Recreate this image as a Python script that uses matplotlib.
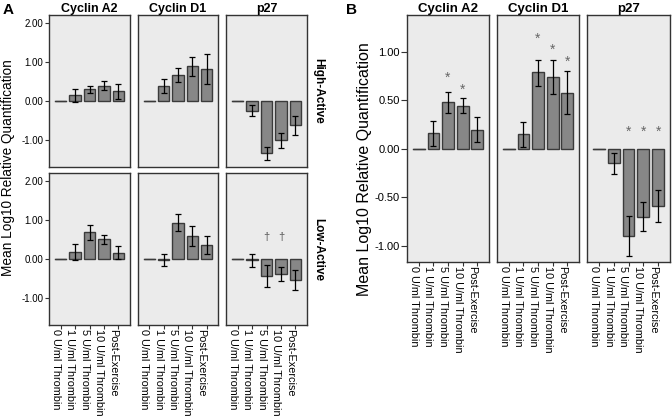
import matplotlib
matplotlib.use("Agg")
import matplotlib.pyplot as plt
import numpy as np

plt.rcParams["font.family"] = ["Liberation Sans", "DejaVu Sans"]

categories = ["0 U/ml Thrombin", "1 U/ml Thrombin", "5 U/ml Thrombin",
              "10 U/ml Thrombin", "Post-Exercise"]
genes = ["Cyclin A2", "Cyclin D1", "p27"]
groups = ["High-Active", "Low-Active"]

# Panel A: mean, lower, upper (error bar ends)
a_high_mean = {"Cyclin A2": [0, 0.15, 0.30, 0.38, 0.26],
               "Cyclin D1": [0, 0.38, 0.66, 0.90, 0.81],
               "p27": [0, -0.26, -1.35, -1.01, -0.63]}
a_high_lo = {"Cyclin A2": [0, -0.02, 0.21, 0.27, 0.05],
             "Cyclin D1": [0, 0.19, 0.49, 0.64, 0.43],
             "p27": [0, -0.39, -1.51, -1.20, -0.88]}
a_high_hi = {"Cyclin A2": [0, 0.30, 0.38, 0.50, 0.44],
             "Cyclin D1": [0, 0.55, 0.83, 1.13, 1.20],
             "p27": [0, -0.12, -1.19, -0.82, -0.38]}
a_low_mean = {"Cyclin A2": [0, 0.17, 0.68, 0.50, 0.15],
              "Cyclin D1": [0, -0.02, 0.91, 0.59, 0.35],
              "p27": [0, -0.02, -0.44, -0.39, -0.54]}
a_low_lo = {"Cyclin A2": [0, -0.03, 0.49, 0.39, -0.01],
            "Cyclin D1": [0, -0.19, 0.71, 0.33, 0.12],
            "p27": [0, -0.20, -0.73, -0.58, -0.80]}
a_low_hi = {"Cyclin A2": [0, 0.38, 0.86, 0.61, 0.33],
            "Cyclin D1": [0, 0.12, 1.14, 0.85, 0.58],
            "p27": [0, 0.12, -0.16, -0.21, -0.28]}
a_dagger_idx = [2, 3]
a_dagger_y = 0.55

# Panel B
b_mean = {"Cyclin A2": [0, 0.16, 0.48, 0.445, 0.20],
          "Cyclin D1": [0, 0.15, 0.79, 0.745, 0.58],
          "p27": [0, -0.15, -0.90, -0.70, -0.585]}
b_lo = {"Cyclin A2": [0, 0.03, 0.37, 0.37, 0.07],
        "Cyclin D1": [0, 0.02, 0.65, 0.57, 0.36],
        "p27": [0, -0.255, -1.10, -0.85, -0.755]}
b_hi = {"Cyclin A2": [0, 0.29, 0.59, 0.52, 0.33],
        "Cyclin D1": [0, 0.28, 0.92, 0.92, 0.80],
        "p27": [0, -0.045, -0.69, -0.545, -0.42]}
b_star_idx = {"Cyclin A2": [2, 3], "Cyclin D1": [2, 3, 4], "p27": [2, 3, 4]}
b_star_y = {"Cyclin A2": [0.73, 0.61], "Cyclin D1": [1.14, 1.02, 0.90],
            "p27": [0.175, 0.175, 0.175]}

W, H = 672, 416
fig = plt.figure(figsize=(W / 100, H / 100), dpi=100)

FACE = "#ebebeb"
BAR = "#878787"
BAREDGE = "#3a3a3a"
SPINE = "#333333"
x = np.arange(len(categories))


def make_ax(x0, x1, y0, y1):
    ax = fig.add_axes([x0 / W, 1 - y1 / H, (x1 - x0) / W, (y1 - y0) / H])
    ax.set_facecolor(FACE)
    for s in ax.spines.values():
        s.set_color(SPINE)
        s.set_linewidth(1.0)
    ax.set_xlim(-0.8, len(categories) - 0.2)
    return ax


def draw(ax, mean, lo, hi):
    mean = np.array(mean)
    lo = np.array(lo)
    hi = np.array(hi)
    ax.bar(x, mean, width=0.8, color=BAR, edgecolor=BAREDGE, linewidth=1.0, zorder=2)
    ax.plot([x[0] - 0.4, x[0] + 0.4], [mean[0], mean[0]], color=BAREDGE, lw=1.0, zorder=3)
    idx = x[1:]
    ax.errorbar(idx, mean[1:], yerr=[mean[1:] - lo[1:], hi[1:] - mean[1:]],
                fmt="none", ecolor="black", elinewidth=0.9, capsize=2, capthick=0.9, zorder=4)


def xlabels(ax):
    ax.set_xticks(x)
    ax.set_xticklabels(categories, rotation=-90, fontsize=7.8, va="top", ha="right",
                       rotation_mode="default")
    ax.tick_params(axis="x", length=3, pad=0, color=SPINE, width=0.8)


colsA = [(49, 130), (138, 218), (226, 307)]
rowsA = [(15, 167), (173, 325)]
A_means = [a_high_mean, a_low_mean]
A_los = [a_high_lo, a_low_lo]
A_his = [a_high_hi, a_low_hi]

for r, (y0, y1) in enumerate(rowsA):
    for c, (x0, x1) in enumerate(colsA):
        ax = make_ax(x0, x1, y0, y1)
        g = genes[c]
        draw(ax, A_means[r][g], A_los[r][g], A_his[r][g])
        ax.set_ylim(-1.7, 2.2)
        ax.set_yticks([-1, 0, 1, 2])
        if c == 0:
            ax.set_yticklabels(["-1.00", "0.00", "1.00", "2.00"], fontsize=7)
            ax.tick_params(axis="y", length=3, pad=1, color=SPINE, width=0.8)
        else:
            ax.tick_params(axis="y", length=0, labelleft=False)
        if r == 1:
            xlabels(ax)
        else:
            ax.set_xticks(x)
            ax.tick_params(axis="x", length=0, labelbottom=False)
        if r == 0:
            ax.set_title(g, fontsize=9, fontweight="bold", pad=2)
        if c == 2:
            ax.text(1.06, 0.5, groups[r], transform=ax.transAxes, rotation=-90,
                    ha="left", va="center", fontsize=8.5, fontweight="bold")
        if r == 1 and g == "p27":
            for i in a_dagger_idx:
                ax.text(x[i], a_dagger_y, "\u2020", ha="center", va="center",
                        fontsize=8, color="#555555")

colsB = [(407, 489), (497, 579), (587, 670)]
for c, (x0, x1) in enumerate(colsB):
    ax = make_ax(x0, x1, 15, 262)
    g = genes[c]
    draw(ax, b_mean[g], b_lo[g], b_hi[g])
    ax.set_ylim(-1.165, 1.38)
    ax.set_yticks([-1, -0.5, 0, 0.5, 1])
    if c == 0:
        ax.set_yticklabels(["-1.00", "-0.50", "0.00", "0.50", "1.00"], fontsize=8)
        ax.tick_params(axis="y", length=4, pad=1, color=SPINE, width=0.8)
    else:
        ax.tick_params(axis="y", length=0, labelleft=False)
    xlabels(ax)
    ax.set_title(g, fontsize=9.5, fontweight="bold", pad=2)
    for i, yv in zip(b_star_idx[g], b_star_y[g]):
        ax.text(x[i], yv, "*", ha="center", va="center", fontsize=10, color="#666666")

fig.text(8 / W, 1 - 167.5 / H, "Mean Log10 Relative Quantification", rotation=90,
         ha="center", va="center", fontsize=9.8)
fig.text(365 / W, 1 - 169 / H, "Mean Log10 Relative Quantification", rotation=90,
         ha="center", va="center", fontsize=11.5)
fig.text(3 / W, 1 - 3 / H, "A", fontsize=11, fontweight="bold", ha="left", va="top")
fig.text(346 / W, 1 - 3 / H, "B", fontsize=11, fontweight="bold", ha="left", va="top")

fig.savefig("out.png", dpi=100, facecolor="white")
